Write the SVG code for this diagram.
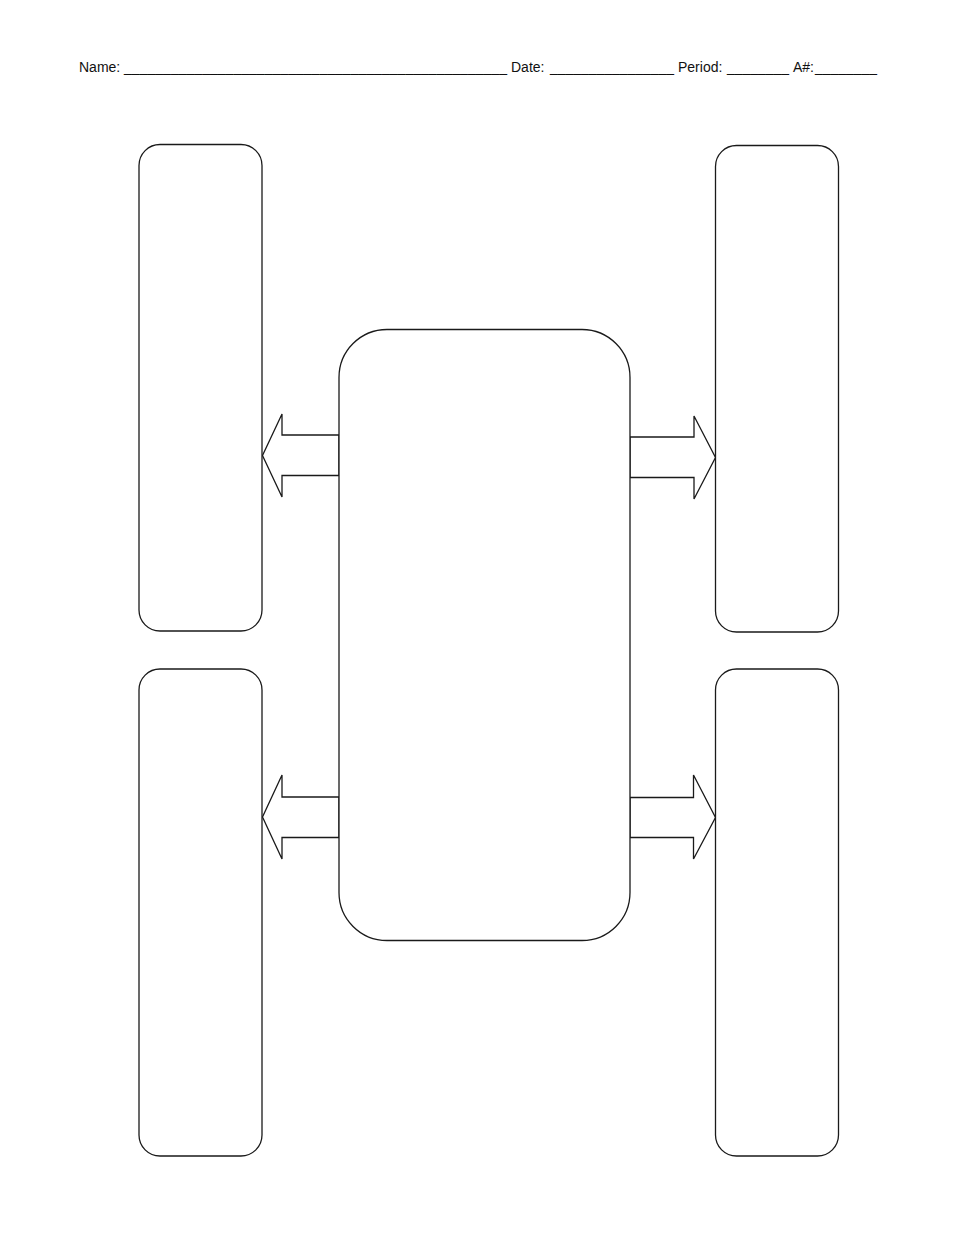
<svg xmlns="http://www.w3.org/2000/svg" width="960" height="1243" viewBox="0 0 960 1243">
<style>
.box{fill:#fff;stroke:#1a1a1a;stroke-width:1.3}
.arr{fill:#fff;stroke:#1a1a1a;stroke-width:1.3;stroke-linejoin:miter}
.hdr{font-family:"Liberation Sans",Arial,sans-serif;font-size:14px;fill:#111}
</style>
<rect width="960" height="1243" fill="#fff"/>
<g id="header">
<text class="hdr" x="79" y="72">Name:</text>
<text class="hdr" x="124" y="72" textLength="383" lengthAdjust="spacingAndGlyphs">_________________________________________________</text>
<text class="hdr" x="511" y="72">Date:</text>
<text class="hdr" x="550" y="72" textLength="124" lengthAdjust="spacingAndGlyphs">________________</text>
<text class="hdr" x="678" y="72">Period:</text>
<text class="hdr" x="727" y="72" textLength="62" lengthAdjust="spacingAndGlyphs">________</text>
<text class="hdr" x="793" y="72">A#:</text>
<text class="hdr" x="815" y="72" textLength="62" lengthAdjust="spacingAndGlyphs">________</text>
</g>
<g id="connectors">
<polygon class="arr" points="339,435 282,435 282,414 262.5,455.5 282,497 282,475.5 339,475.5"/>
<polygon class="arr" points="630,437 694,437 694,416 715.5,457.5 694,499 694,477.5 630,477.5"/>
<polygon class="arr" points="339,797 282,797 282,775 262.5,817 282,859 282,837.5 339,837.5"/>
<polygon class="arr" points="630,797.5 693.5,797.5 693.5,775 715.5,817.5 693.5,859 693.5,837.5 630,837.5"/>
</g>
<g id="center">
<rect class="box" x="339" y="329.5" width="291" height="611" rx="48" ry="48"/>
</g>
<g id="top-left">
<rect class="box" x="139" y="144.5" width="123" height="486.5" rx="21" ry="21"/>
</g>
<g id="bottom-left">
<rect class="box" x="139" y="669" width="123" height="487" rx="21" ry="21"/>
</g>
<g id="top-right">
<rect class="box" x="715.5" y="145.5" width="123" height="486.5" rx="21" ry="21"/>
</g>
<g id="bottom-right">
<rect class="box" x="715.5" y="669" width="123" height="487" rx="21" ry="21"/>
</g>
</svg>
